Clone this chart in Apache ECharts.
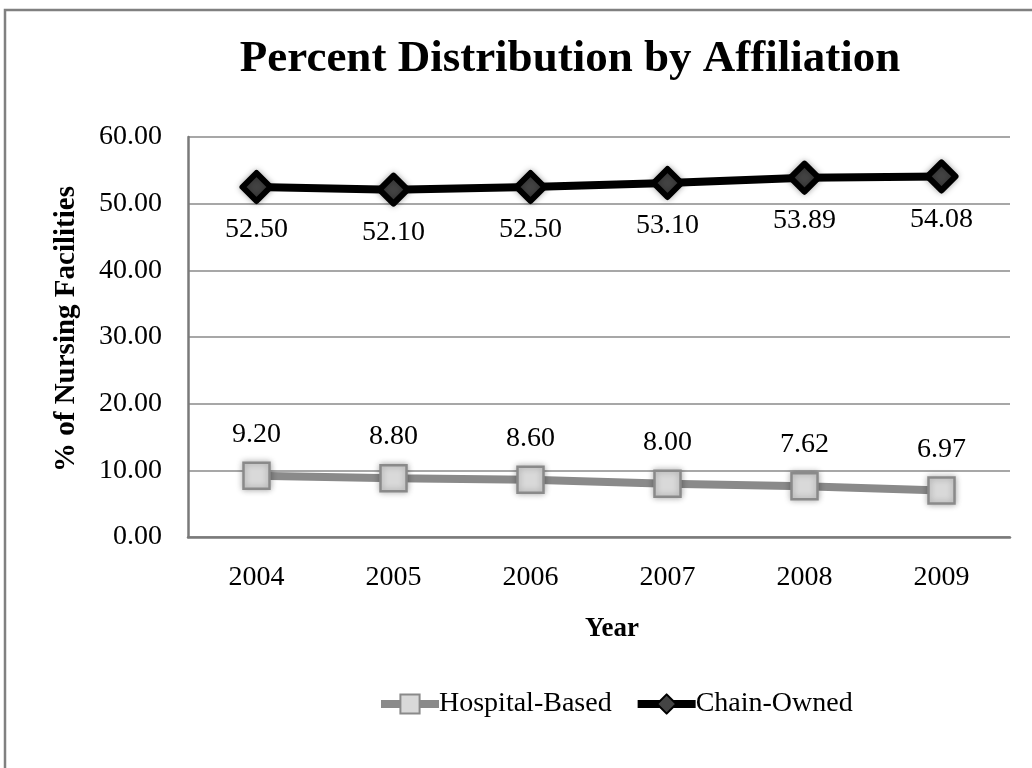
<!DOCTYPE html>
<html>
<head>
<meta charset="utf-8">
<script src="https://cdn.jsdelivr.net/npm/echarts@6/dist/echarts.min.js"></script>
<style>
html,body{margin:0;padding:0;background:#fff;}
#chart{width:1032px;height:768px;}
</style>
</head>
<body>
<div id="chart"></div>
<script>
const years = ['2004', '2005', '2006', '2007', '2008', '2009'];
const hospitalBased = [9.20, 8.80, 8.60, 8.00, 7.62, 6.97];
const chainOwned = [52.50, 52.10, 52.50, 53.10, 53.89, 54.08];
const yMin = 0, yMax = 60, yStep = 10;

const FONT = 'Liberation Serif';
const chart = echarts.init(document.getElementById('chart'), null, {renderer: 'canvas'});

const option = {
  backgroundColor: '#fff',
  animation: false,
  title: {
    text: 'Percent Distribution by Affiliation',
    left: 565, top: 32, textAlign: 'center',
    textStyle: {fontFamily: FONT, fontWeight: 'bold', fontSize: 45, color: '#000'}
  },
  graphic: [{
    type: 'rect', silent: true,
    shape: {x: 5, y: 10, width: 1100, height: 800},
    style: {fill: 'none', stroke: '#808080', lineWidth: 2.5}
  }],
  legend: {
    left: 372, top: 685,
    itemWidth: 58, itemHeight: 24, itemGap: 22,
    lineStyle: {width: 8},
    textStyle: {fontFamily: FONT, fontSize: 28, color: '#000', padding: [0,0,0,-5]},
    data: ['Hospital-Based', 'Chain-Owned']
  },
  grid: {left: 188, right: 22, top: 137, bottom: 231},
  xAxis: {
    type: 'category', data: years, boundaryGap: true,
    axisLine: {show: true, lineStyle: {color: '#7a7a7a', width: 2.5}},
    axisTick: {show: false},
    axisLabel: {fontFamily: FONT, fontSize: 28, color: '#000', margin: 27},
    name: 'Year', nameLocation: 'middle', nameGap: 79,
    nameTextStyle: {fontFamily: FONT, fontWeight: 'bold', fontSize: 27, color: '#000', padding: [0,0,0,26]}
  },
  yAxis: {
    type: 'value', min: yMin, max: yMax, interval: yStep,
    axisLine: {show: true, lineStyle: {color: '#7a7a7a', width: 2.5}},
    axisTick: {show: false},
    splitLine: {show: true, lineStyle: {color: '#8a8a8a', width: 1.5}},
    axisLabel: {fontFamily: FONT, fontSize: 28, color: '#000', margin: 26,
      formatter: v => v.toFixed(2)},
    name: '% of Nursing Facilities', nameLocation: 'middle', nameGap: 107,
    nameTextStyle: {fontFamily: FONT, fontWeight: 'bold', fontSize: 29, color: '#000', padding: [0,0,0,16]}
  },
  series: [{
    name: 'Hospital-Based', type: 'line',
    data: hospitalBased,
    symbol: 'rect', symbolSize: 26,
    lineStyle: {color: '#8a8a8a', width: 8},
    itemStyle: {color: '#d9d9d9', borderColor: '#8a8a8a', borderWidth: 2.5,
      shadowBlur: 6, shadowColor: 'rgba(0,0,0,0.3)'},
    label: {show: true, position: 'top', distance: 13,
      fontFamily: FONT, fontSize: 28, color: '#000',
      formatter: p => p.value.toFixed(2)},
    z: 3
  }, {
    name: 'Chain-Owned', type: 'line',
    data: chainOwned,
    symbol: 'diamond', symbolSize: 28,
    lineStyle: {color: '#000', width: 8},
    itemStyle: {color: '#444', borderColor: '#000', borderWidth: 6, borderJoin: 'round',
      shadowBlur: 6, shadowColor: 'rgba(0,0,0,0.3)'},
    label: {show: true, position: 'bottom', distance: 12,
      fontFamily: FONT, fontSize: 28, color: '#000',
      formatter: p => p.value.toFixed(2)},
    z: 3
  }]
};
chart.setOption(option);
</script>
</body>
</html>
